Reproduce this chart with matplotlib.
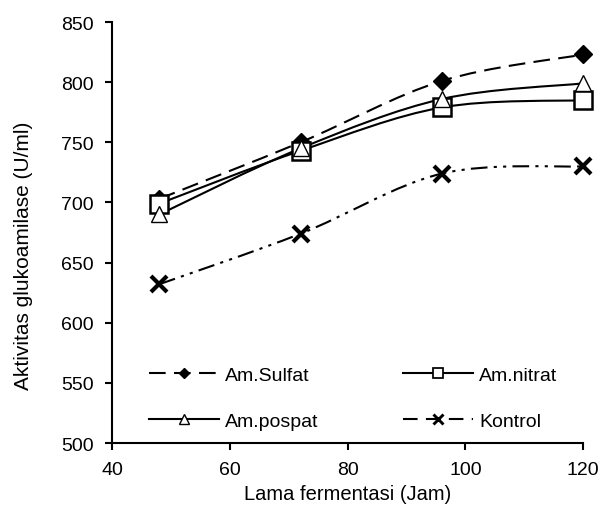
import matplotlib
matplotlib.use("Agg")
import matplotlib.pyplot as plt
import numpy as np
from matplotlib.path import Path
from matplotlib.patches import PathPatch
from matplotlib.lines import Line2D

plt.rcParams['font.family'] = ['Liberation Sans', 'DejaVu Sans']

# data
jam = [48, 72, 96, 120]
sulfat = [703, 750, 801, 823]
nitrat = [699, 743, 779, 785]
pospat = [690, 745, 786, 799]
kontrol = [632, 674, 724, 730]


def smooth_path(xs, ys):
    # excel-like smoothed line: cubic bezier, tension 1/6
    pts = np.column_stack([xs, ys]).astype(float)
    n = len(pts)
    verts = [pts[0]]
    codes = [Path.MOVETO]
    for i in range(n - 1):
        p0 = pts[i - 1] if i > 0 else pts[i]
        p1 = pts[i]
        p2 = pts[i + 1]
        p3 = pts[i + 2] if i + 2 < n else pts[i + 1]
        c1 = p1 + (p2 - p0) / 6.0
        c2 = p2 - (p3 - p1) / 6.0
        verts += [c1, c2, p2]
        codes += [Path.CURVE4] * 3
    return Path(verts, codes)


fig = plt.figure(figsize=(6.03, 5.06), dpi=100)
ax = fig.add_axes([0.186, 0.1225, 0.781, 0.832])

series = [
    ("Am.Sulfat", sulfat, (0, (8, 4)), dict(marker='D', ms=9.5, mfc='black', mec='black')),
    ("Am.nitrat", nitrat, '-', dict(marker='s', ms=12.5, mfc='white', mec='black', mew=1.8)),
    ("Am.pospat", pospat, '-', dict(marker='^', ms=12, mfc='white', mec='black', mew=1.0)),
    ("Kontrol", kontrol, (0, (8, 3, 1.5, 3, 1.5, 3)), dict(marker='x', ms=12, mec='black', mew=3)),
]

handles = {}
for name, vals, ls, mk in series:
    patch = PathPatch(smooth_path(jam, vals), fill=False, ec='black', lw=1.5,
                      linestyle=ls, zorder=2)
    ax.add_patch(patch)
    ax.plot(jam, vals, linestyle='none', zorder=3, clip_on=False, **mk)
    leg_mk = dict(mk)
    leg_mk['ms'] = mk['ms'] * 0.55
    if 'mew' in leg_mk:
        leg_mk['mew'] = max(1.0, mk['mew'] * 0.7)
    # legend swatch for Kontrol shows plain dashes either side of the marker
    leg_ls = (0, (7, 4)) if name == "Kontrol" else ls
    handles[name] = Line2D([], [], color='black', lw=1.5, linestyle=leg_ls, label=name, **leg_mk)

ax.set_xlim(40, 120)
ax.set_ylim(500, 850)
ax.set_xticks([40, 60, 80, 100, 120])
ax.set_yticks(range(500, 851, 50))
ax.spines['top'].set_visible(False)
ax.spines['right'].set_visible(False)
for s in ('left', 'bottom'):
    ax.spines[s].set_linewidth(1.5)
ax.tick_params(direction='out', length=5, width=1.5, labelsize=14)
ax.tick_params(axis='y', pad=8)
ax.tick_params(axis='x', pad=8)
ax.set_xlabel("Lama fermentasi (Jam)", fontsize=14.5, labelpad=4)
ax.set_ylabel("Aktivitas glukoamilase (U/ml)", fontsize=15)
ax.yaxis.set_label_coords(-0.168, 0.447)

# row-major order like the reference: Sulfat, nitrat / pospat, Kontrol
order = ["Am.Sulfat", "Am.pospat", "Am.nitrat", "Kontrol"]
ax.legend(handles=[handles[k] for k in order], ncol=2, frameon=False, fontsize=14,
          loc='lower left', bbox_to_anchor=(0.058, 0.008), borderpad=0,
          handlelength=3.6, columnspacing=4.35, labelspacing=1.45, handletextpad=0.3)

fig.savefig("out.png", dpi=100)
